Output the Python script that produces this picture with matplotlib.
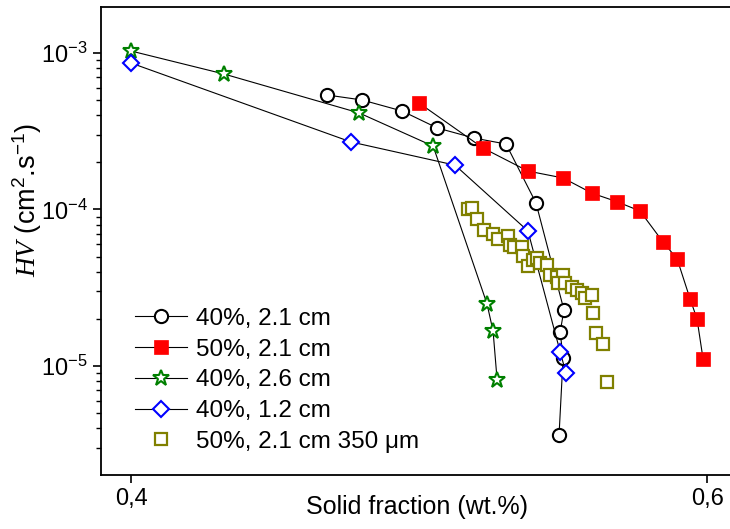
import numpy as np
import matplotlib
matplotlib.use("Agg")
import matplotlib.pyplot as plt
from matplotlib.ticker import FixedLocator, FuncFormatter, LogLocator, NullFormatter

plt.rcParams['font.family'] = ['Liberation Sans', 'DejaVu Sans']
plt.rcParams['mathtext.fontset'] = 'custom'
plt.rcParams['mathtext.rm'] = 'Liberation Sans'
plt.rcParams['mathtext.it'] = 'Liberation Serif:italic'
plt.rcParams['mathtext.default'] = 'rm'

# 40%, 2.1 cm
x_c40 = [0.4681, 0.4802, 0.4941, 0.5063, 0.5191, 0.5302, 0.5406, 0.5503, 0.5490, 0.5500, 0.5486]
y_c40 = [5.39e-4, 5.01e-4, 4.26e-4, 3.32e-4, 2.86e-4, 2.62e-4, 1.10e-4, 2.28e-5, 1.65e-5, 1.12e-5, 3.62e-6]

# 50%, 2.1 cm
x_s50 = [0.5000, 0.5222, 0.5378, 0.5500, 0.5601, 0.5688, 0.5767, 0.5847, 0.5896, 0.5941, 0.5965, 0.5986]
y_s50 = [4.79e-4, 2.47e-4, 1.76e-4, 1.59e-4, 1.27e-4, 1.12e-4, 9.78e-5, 6.20e-5, 4.83e-5, 2.68e-5, 2.00e-5, 1.11e-5]

# 40%, 2.6 cm
x_st = [0.4000, 0.4323, 0.4792, 0.5049, 0.5236, 0.5257, 0.5271]
y_st = [1.03e-3, 7.34e-4, 4.14e-4, 2.54e-4, 2.49e-5, 1.67e-5, 8.14e-6]

# 40%, 1.2 cm
x_d = [0.4000, 0.4764, 0.5125, 0.5378, 0.5490, 0.5510]
y_d = [8.63e-4, 2.70e-4, 1.92e-4, 7.29e-5, 1.23e-5, 9.02e-6]

# 50%, 2.1 cm 350 um
x_o = [0.5170, 0.5184, 0.5201, 0.5226, 0.5257, 0.5274, 0.5309, 0.5316, 0.5330, 0.5358,
       0.5361, 0.5378, 0.5396, 0.5410, 0.5420, 0.5444, 0.5455, 0.5479, 0.5500, 0.5483,
       0.5507, 0.5531, 0.5549, 0.5566, 0.5576, 0.5601, 0.5604, 0.5615, 0.5639, 0.5653]
y_o = [1.007e-4, 1.02e-4, 8.70e-5, 7.40e-5, 6.97e-5, 6.48e-5, 6.77e-5, 5.93e-5, 5.76e-5, 5.76e-5,
       5.04e-5, 4.36e-5, 4.76e-5, 4.90e-5, 4.55e-5, 4.42e-5, 3.82e-5, 3.70e-5, 3.82e-5, 3.39e-5,
       3.39e-5, 3.20e-5, 3.06e-5, 2.93e-5, 2.72e-5, 2.84e-5, 2.18e-5, 1.63e-5, 1.38e-5, 7.90e-6]

labels = ["40%, 2.1 cm", "50%, 2.1 cm", "40%, 2.6 cm", "40%, 1.2 cm", "50%, 2.1 cm 350 \u03bcm"]

fig = plt.figure(figsize=(7.3, 5.29), dpi=100)
ax = fig.add_axes([101 / 730, 1 - 475 / 529, 630 / 730, 468 / 529])

lw = 0.8
ax.plot(x_c40, y_c40, color='black', lw=lw, marker='o', ms=9.5, mfc='white', mec='black', mew=1.5, label=labels[0])
ax.plot(x_s50, y_s50, color='black', lw=lw, marker='s', ms=9.5, mfc='red', mec='red', mew=0.5, label=labels[1])
ax.plot(x_st, y_st, color='black', lw=lw, marker='*', ms=12, mfc='white', mec='green', mew=1.5, label=labels[2])
ax.plot(x_d, y_d, color='black', lw=lw, marker='D', ms=8.5, mfc='white', mec='blue', mew=1.5, label=labels[3])
ax.plot(x_o, y_o, ls='none', marker='s', ms=9, mfc='white', mec='#808000', mew=1.6, label=labels[4])

ax.set_yscale('log')
ax.set_xlim(0.38958, 0.6083)
ax.set_ylim(2.01e-6, 1.968e-3)

ax.xaxis.set_major_locator(FixedLocator([0.4, 0.6]))
ax.xaxis.set_major_formatter(FuncFormatter(lambda v, p: ("%.1f" % v).replace('.', ',')))
ax.yaxis.set_major_locator(FixedLocator([1e-5, 1e-4, 1e-3]))
ax.yaxis.set_major_formatter(FuncFormatter(lambda v, p: r"$10^{%d}$" % int(round(np.log10(v)))))
ax.yaxis.set_minor_locator(LogLocator(base=10, subs=np.arange(2, 10)))
ax.yaxis.set_minor_formatter(NullFormatter())

ax.tick_params(which='major', direction='out', length=6, width=1.2, labelsize=17)
ax.tick_params(which='minor', direction='out', length=3.5, width=1.0)
ax.tick_params(axis='x', which='minor', bottom=False)
for s in ax.spines.values():
    s.set_linewidth(1.3)

ax.set_xlabel("Solid fraction (wt.%)", fontsize=18, va='center')
ax.xaxis.set_label_coords(0.502, -0.068)
ax.set_ylabel(r"$\mathit{HV}$ (cm$^{2}$.s$^{-1}$)", fontsize=19.5, va='center')
ax.yaxis.set_label_coords(-0.117, 0.588)

ax.legend(loc='upper left', bbox_to_anchor=(0.0386, 0.378), frameon=False, fontsize=17.5,
          handlelength=2.14, handletextpad=0.37, labelspacing=0.36, borderaxespad=0)

fig.savefig("out.png", dpi=100)
